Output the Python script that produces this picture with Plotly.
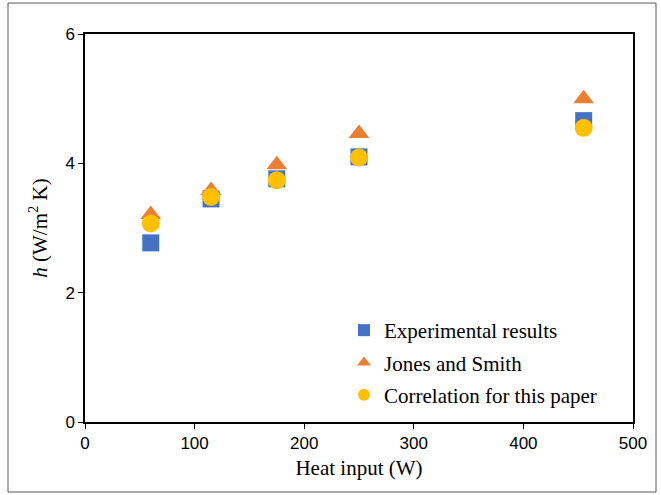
import plotly.graph_objects as go

heat_input = [60, 115, 175, 250, 455]
experimental = [2.77, 3.45, 3.76, 4.10, 4.66]
jones_smith = [3.21, 3.58, 3.98, 4.46, 5.00]
correlation = [3.07, 3.48, 3.74, 4.09, 4.55]

fig = go.Figure()
fig.add_trace(go.Scatter(x=heat_input, y=experimental, mode="markers", name="Experimental results",
                         legendgroup="a",
                         marker=dict(symbol="square", size=17, color="#4472C4")))
fig.add_trace(go.Scatter(x=heat_input, y=jones_smith, mode="markers", name="Jones and Smith",
                         legendgroup="b",
                         marker=dict(symbol="triangle-up", size=18, color="#ED7D31")))
fig.add_trace(go.Scatter(x=heat_input, y=correlation, mode="markers", name="Correlation for this paper",
                         legendgroup="c",
                         marker=dict(symbol="circle", size=18, color="#FFC000")))

L, R, T, B = 85, 28, 34, 73
W, H = 661, 495
pw, ph = W - L - R, H - T - B

def px2paper_x(px):
    return (px - L) / pw

def px2paper_y(py):
    return (H - B - py) / ph

fig.update_layout(
    width=W, height=H,
    margin=dict(l=L, r=R, t=T, b=B),
    paper_bgcolor="white", plot_bgcolor="white",
    showlegend=True,
    legend=dict(x=px2paper_x(344), y=px2paper_y(310), xanchor="left", yanchor="top",
                font=dict(family="Liberation Serif", size=21, color="black"),
                bgcolor="rgba(0,0,0,0)", itemsizing="constant", itemwidth=30,
                tracegroupgap=2),
    xaxis=dict(range=[0, 500], tickvals=[0, 100, 200, 300, 400, 500], showgrid=False, zeroline=False,
               showline=True, linecolor="black", linewidth=1.5, mirror=True,
               ticks="outside", ticklen=5, tickcolor="black",
               tickfont=dict(family="Liberation Sans", size=17, color="black"),
               title=dict(text="Heat input (W)", font=dict(family="Liberation Serif", size=21, color="black"),
                          standoff=8)),
    yaxis=dict(range=[0, 6], tickvals=[0, 2, 4, 6], showgrid=False, zeroline=False,
               showline=True, linecolor="black", linewidth=1.5, mirror=True,
               ticks="outside", ticklen=5, tickcolor="black",
               tickfont=dict(family="Liberation Sans", size=17, color="black"),
               title=dict(text="<i>h</i> (W/m<sup>2</sup> K)",
                          font=dict(family="Liberation Serif", size=21, color="black"), standoff=12)),
    shapes=[dict(type="rect", xref="paper", yref="paper",
                 x0=px2paper_x(8), x1=px2paper_x(656), y0=px2paper_y(492), y1=px2paper_y(3),
                 line=dict(color="#595959", width=1))],
)

fig.write_html("out.html")
